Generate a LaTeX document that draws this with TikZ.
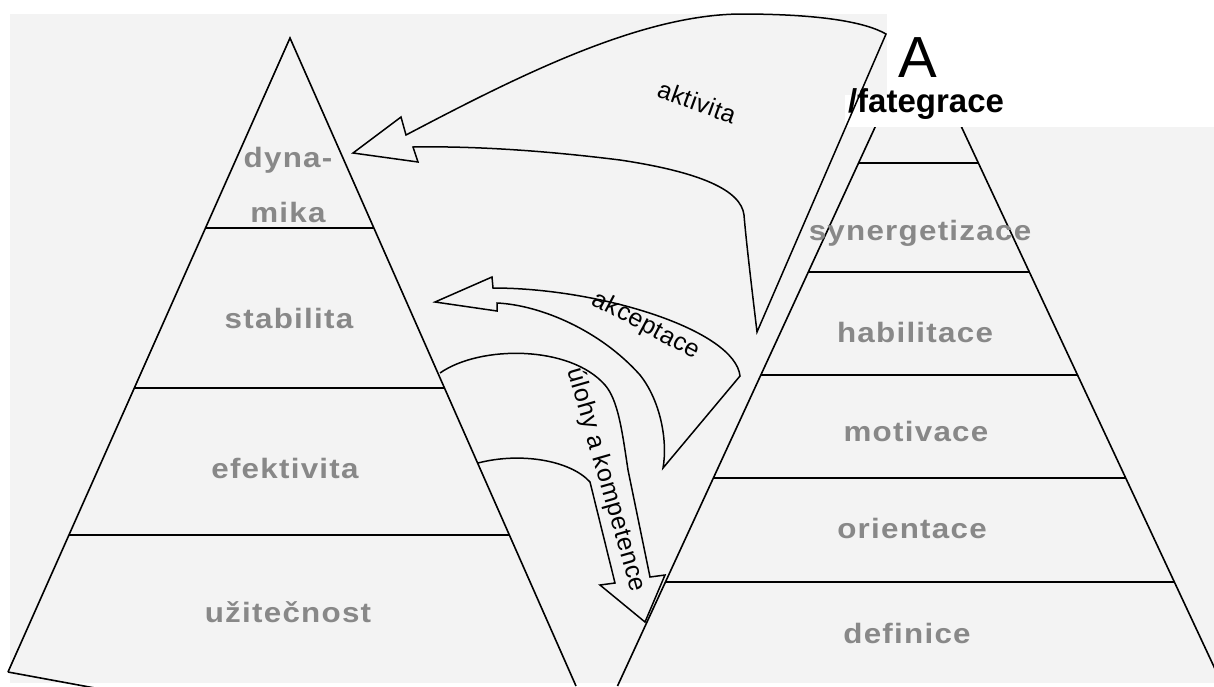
\documentclass[tikz,border=0pt]{standalone}
\usepackage{fontspec}
\setmainfont{Liberation Sans}
\newfontfamily\levelfont[LetterSpace=4]{Liberation Sans}
\newfontfamily\flowfont[LetterSpace=2]{Liberation Sans}
\definecolor{paper}{RGB}{243,243,243}
\definecolor{levelgray}{RGB}{136,136,136}
\begin{document}
\begin{tikzpicture}[x=1pt,y=-1pt,
  edge/.style={line width=1.6pt, draw=black},
  flow/.style={line width=1.5pt, draw=black, line join=miter},
  level/.style={font=\levelfont\bfseries\fontsize{28}{32}\selectfont,
    text=levelgray, anchor=base, inner sep=0pt, xscale=1.12},
  flowlabel/.style={font=\flowfont\fontsize{25}{28}\selectfont,
    text=black, inner sep=0pt}]
\useasboundingbox (0,0) rectangle (1214,686);
% page and scanned sheet
\fill[white] (0,0) rectangle (1214,686);
\fill[paper] (10,14) rectangle (1214,683);

% ---- left pyramid: dynamika / stabilita / efektivita / uzitecnost
\coordinate (LA) at (290,38);
\coordinate (LL) at (8,672);
\coordinate (LR) at (576,686);
\draw[edge] (LL) -- (LA) -- (LR);
\draw[edge] (LL) -- (160,700);
\draw[edge] (205.5,228) -- (373.9,228);
\draw[edge] (134.3,388) -- (444.5,388);
\draw[edge] (68.9,535) -- (509.4,535);

% ---- right pyramid: synergetizace ... definice
\coordinate (RA) at (918,34);
\coordinate (RL) at (617.5,686);
\coordinate (RR) at (1223,686);
\draw[edge] (RL) -- (RA) -- (RR);
\draw[edge] (858.5,163) -- (978.4,163);
\draw[edge] (808.3,272) -- (1029.4,272);
\draw[edge] (760.8,375) -- (1077.6,375);
\draw[edge] (713.3,478) -- (1125.8,478);
\draw[edge] (665.4,582) -- (1174.5,582);

% title boxes over the right apex
\fill[white] (887,0) rectangle (1214,96);
\fill[white] (845,95) rectangle (1214,127);
\node[font=\fontsize{58}{60}\selectfont, anchor=base, inner sep=0pt] (tA) at (918,77) {A};
\node[font=\bfseries\fontsize{33}{36}\selectfont, anchor=base, inner sep=0pt] (tF) at (926,112) {/fategrace};

% ---- hollow flow arrows
% aktivita
\draw[flow] (353,153) -- (401,117) -- (406,135)
  .. controls (520,75) and (640,15) .. (740,14)
  .. controls (820,14) and (865,22) .. (886,34)
  -- (757,332)
  .. controls (752,290) and (746,240) .. (744,215)
  .. controls (741,190) and (700,172) .. (620,160)
  .. controls (540,150) and (470,146) .. (413,147)
  -- (418,162) -- cycle;
% akceptace
\draw[flow] (435,302) -- (492,277) -- (493,288)
  .. controls (600,288) and (735,330) .. (740,376)
  -- (663,468)
  .. controls (668,440) and (660,400) .. (640,375)
  .. controls (600,330) and (540,305) .. (497,303)
  -- (497,311) -- cycle;
% ulohy a kompetence
\draw[flow] (440,373)
  .. controls (480,345) and (570,345) .. (605,385)
  .. controls (618,400) and (622,430) .. (628,470)
  -- (650,577) -- (665,575) -- (645,622) -- (600,585) -- (615,583)
  -- (590,482)
  .. controls (570,460) and (520,452) .. (478,463);

% ---- labels
\node[flowlabel, rotate=-20] (lAkt) at (697,102) {aktivita};
\node[flowlabel, rotate=-28] (lAkc) at (646,326) {akceptace};
\node[flowlabel, rotate=-74] (lUl) at (606,480) {úlohy a kompetence};

\node[level] (l1a) at (288,167) {dyna-};
\node[level] (l1b) at (288,222) {mika};
\node[level] (l2) at (289,328) {stabilita};
\node[level] (l3) at (285,478) {efektivita};
\node[level] (l4) at (288,622) {užitečnost};

\node[level] (r1) at (920,240) {synergetizace};
\node[level] (r2) at (915,342) {habilitace};
\node[level] (r3) at (916,441) {motivace};
\node[level] (r4) at (912,538) {orientace};
\node[level] (r5) at (907,643) {definice};
\end{tikzpicture}
\end{document}
